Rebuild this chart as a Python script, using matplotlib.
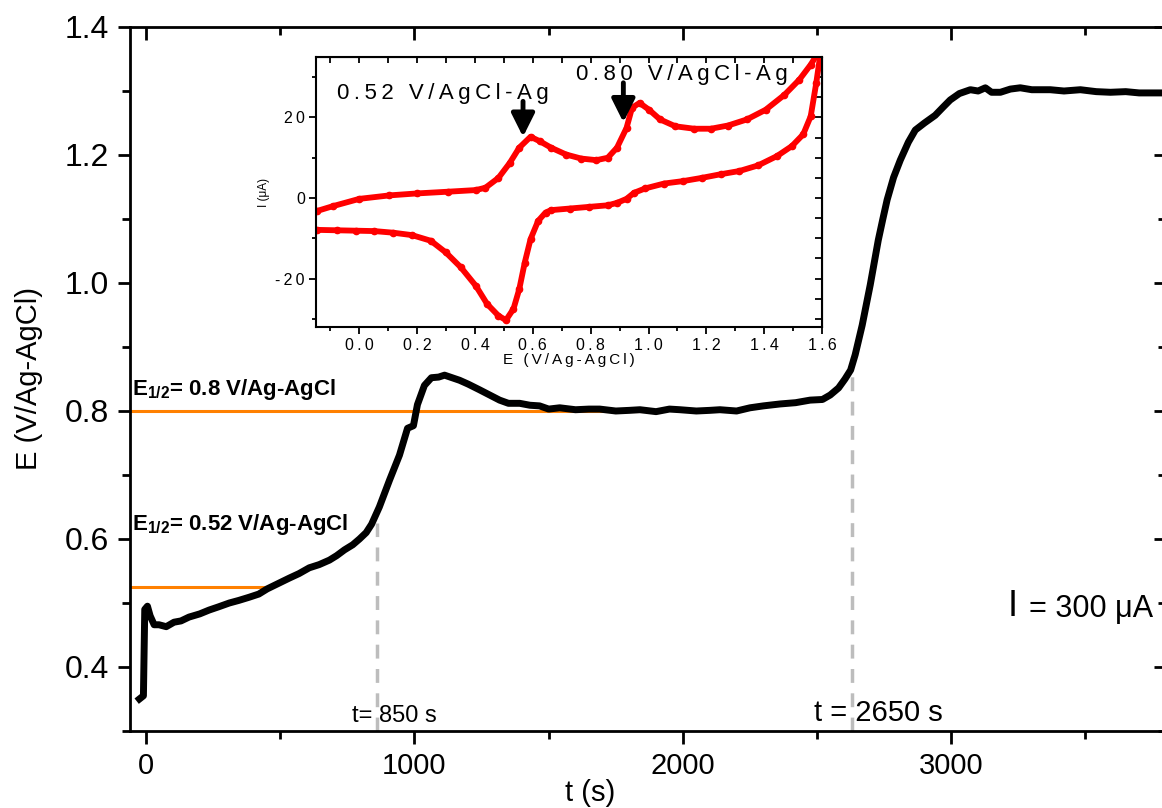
import matplotlib
matplotlib.use('Agg')
import matplotlib.pyplot as plt
from matplotlib import font_manager
from matplotlib.ticker import MultipleLocator, FuncFormatter


def pick_font(name, fallback='Liberation Sans'):
    try:
        font_manager.findfont(name, fallback_to_default=False)
        return name
    except ValueError:
        return fallback


SANS = 'Liberation Sans'
NARROW = pick_font('Liberation Sans Narrow')

plt.rcParams['font.family'] = [SANS, 'DejaVu Sans']
plt.rcParams['mathtext.fontset'] = 'custom'
plt.rcParams['mathtext.bf'] = 'Liberation Sans:bold'
plt.rcParams['mathtext.rm'] = 'Liberation Sans'

# chronopotentiogram, E vs t at I = 300 uA
t_s = [-25, -10, -5, 5, 15, 30, 48, 75, 104, 130, 160, 200, 235, 270, 310, 345, 384, 420,
       451, 490, 534, 570, 608, 645, 683, 710, 739, 770, 795, 820, 840, 869, 907, 944, 974,
       996, 1011, 1037, 1063, 1090, 1112, 1140, 1168, 1200, 1243, 1280, 1317, 1350, 1392,
       1430, 1466, 1500, 1541, 1600, 1650, 1690, 1750, 1800, 1840, 1900, 1950, 1989, 2050,
       2100, 2138, 2200, 2250, 2300, 2362, 2420, 2474, 2520, 2549, 2580, 2604, 2625, 2642,
       2668, 2698, 2728, 2745, 2761, 2785, 2810, 2840, 2866, 2900, 2940, 2970, 2996, 3030,
       3071, 3100, 3127, 3150, 3183, 3220, 3257, 3300, 3369, 3420, 3481, 3540, 3593, 3650,
       3700, 3780]
e_v = [0.350, 0.355, 0.490, 0.495, 0.480, 0.466, 0.466, 0.463, 0.470, 0.472, 0.478, 0.483,
       0.489, 0.494, 0.500, 0.504, 0.509, 0.514, 0.522, 0.530, 0.539, 0.546, 0.555, 0.560,
       0.567, 0.574, 0.583, 0.591, 0.600, 0.610, 0.623, 0.650, 0.692, 0.731, 0.773, 0.777,
       0.810, 0.840, 0.852, 0.853, 0.856, 0.852, 0.848, 0.842, 0.833, 0.825, 0.817, 0.812,
       0.812, 0.809, 0.808, 0.803, 0.805, 0.802, 0.803, 0.803, 0.800, 0.801, 0.802, 0.799,
       0.803, 0.802, 0.800, 0.801, 0.802, 0.800, 0.805, 0.808, 0.811, 0.813, 0.817, 0.818,
       0.825, 0.836, 0.850, 0.864, 0.888, 0.934, 0.997, 1.067, 1.100, 1.130, 1.165, 1.192,
       1.220, 1.239, 1.250, 1.262, 1.275, 1.286, 1.296, 1.302, 1.300, 1.305, 1.298, 1.298,
       1.303, 1.305, 1.302, 1.302, 1.300, 1.302, 1.299, 1.298, 1.299, 1.297, 1.297]

# half-wave potentials and transition times
half_wave = [0.8, 0.525]
half_wave_end = [1900, 455]
half_wave_labels = [r'$\mathbf{E_{1/2}}$= 0.8 V/Ag-AgCl', r'$\mathbf{E_{1/2}}$= 0.52 V/Ag-AgCl']
half_wave_label_y = [0.834, 0.623]
trans_t = [860, 2630]
trans_e = [0.625, 0.885]

# cyclic voltammogram (inset)
cv_e_fwd = [-0.146, -0.091, 0.0, 0.104, 0.2, 0.306, 0.403, 0.436, 0.481, 0.52, 0.553, 0.592,
            0.624, 0.663, 0.715, 0.767, 0.82, 0.859, 0.891, 0.924, 0.943, 0.969, 1.002, 1.04,
            1.093, 1.158, 1.216, 1.275, 1.34, 1.405, 1.47, 1.522, 1.561, 1.593]
cv_i_fwd = [-3.2, -2.0, -0.2, 0.66, 1.15, 1.57, 1.98, 2.56, 5.0, 8.7, 12.5, 15.2, 14.1, 12.5,
            10.8, 9.8, 9.4, 10.0, 12.5, 17.4, 22.4, 23.6, 21.9, 19.5, 17.8, 17.2, 17.2, 18.0,
            19.5, 21.9, 25.6, 29.4, 33.1, 36.8]
cv_e_rev = [1.593, 1.58, 1.561, 1.535, 1.496, 1.444, 1.379, 1.314, 1.249, 1.184, 1.119, 1.054,
            0.989, 0.95, 0.924, 0.891, 0.859, 0.793, 0.728, 0.663, 0.644, 0.618, 0.592, 0.572,
            0.553, 0.533, 0.507, 0.481, 0.442, 0.403, 0.351, 0.299, 0.247, 0.182, 0.117, 0.052,
            -0.013, -0.078, -0.146]
cv_i_rev = [35.0, 28.5, 20.3, 15.8, 12.9, 10.4, 8.1, 6.7, 5.9, 5.0, 4.2, 3.6, 2.4, 1.3, -0.2,
            -1.2, -1.8, -2.2, -2.6, -3.0, -3.6, -5.7, -10.2, -16.0, -22.6, -27.5, -30.3, -29.2,
            -26.3, -21.8, -17.2, -13.5, -10.6, -9.2, -8.6, -8.2, -8.1, -8.0, -7.9]
peak_labels = ['0.52 V/AgCl-Ag', '0.80 V/AgCl-Ag']
peak_label_pos = [(-0.078, 26.0), (0.750, 30.6)]
arrow_x = [0.566, 0.913]
arrow_from = [24.0, 28.6]
arrow_to = [15.2, 18.8]


def spaced(s):
    return '\u2009'.join(s)


fig = plt.figure(figsize=(11.62, 8.08), dpi=100)
ax = fig.add_axes([130 / 1162, 77 / 808, 1036 / 1162, 704 / 808])

ax.plot(t_s, e_v, color='black', lw=5, solid_joinstyle='round', zorder=3)
for y, x1 in zip(half_wave, half_wave_end):
    ax.hlines(y, -60, x1, color='#FF8000', lw=2.2, zorder=2)
for lab, y in zip(half_wave_labels, half_wave_label_y):
    ax.text(-52, y, lab, fontsize=16, fontweight='bold', va='center', ha='left')
for t, e in zip(trans_t, trans_e):
    ax.vlines(t, 0.3, e, color='#BDBDBD', lw=2.5, linestyles=(0, (4, 3)), zorder=1)

ax.text(925, 0.323, 't= 850 s', family=NARROW, fontsize=17, ha='center', va='center')
ax.text(2727, 0.328, 't = 2650 s', family=NARROW, fontsize=21, ha='center', va='center')
ax.text(3210, 0.494, 'I', fontsize=26, ha='left', va='center')
ax.text(3288, 0.491, '= 300 \u03bcA', fontsize=22, ha='left', va='center')

ax.set_xlim(-60, 3800)
ax.set_ylim(0.3, 1.4)
ax.xaxis.set_major_locator(MultipleLocator(1000))
ax.xaxis.set_minor_locator(MultipleLocator(500))
ax.yaxis.set_major_locator(MultipleLocator(0.2))
ax.yaxis.set_minor_locator(MultipleLocator(0.1))
ax.yaxis.set_major_formatter(FuncFormatter(lambda v, p: f'{v:.1f}'))
ax.tick_params(axis='both', which='major', direction='out', length=9, width=2)
ax.tick_params(axis='both', which='minor', direction='out', length=6, width=2)
ax.tick_params(axis='y', labelsize=23, pad=6)
ax.tick_params(axis='x', labelsize=21, pad=6)
for lab in ax.get_xticklabels():
    lab.set_family(NARROW)
for sp in ax.spines.values():
    sp.set_linewidth(2)

top = ax.secondary_xaxis('top')
top.xaxis.set_major_locator(MultipleLocator(1000))
top.xaxis.set_minor_locator(MultipleLocator(500))
top.tick_params(which='major', direction='in', length=9, width=2, labeltop=False)
top.tick_params(which='minor', direction='in', length=6, width=2)
right = ax.secondary_yaxis('right')
right.yaxis.set_major_locator(MultipleLocator(0.2))
right.yaxis.set_minor_locator(MultipleLocator(0.1))
right.tick_params(which='major', direction='in', length=9, width=2, labelright=False)
right.tick_params(which='minor', direction='in', length=6, width=2)

ax.set_xlabel('t (s)', family=NARROW, fontsize=21)
ax.xaxis.set_label_coords((590 - 130) / 1036, -(793 - 731) / 704)
ax.xaxis.label.set_va('center')
ax.set_ylabel('E (V/Ag-AgCl)', family=NARROW, fontsize=21, labelpad=16)

# inset CV
ax_in = fig.add_axes([316 / 1162, 481 / 808, 506 / 1162, 270 / 808])
ax_in.plot(cv_e_fwd, cv_i_fwd, color='#FF0000', lw=4.2, marker='o', ms=4.5)
ax_in.plot(cv_e_rev, cv_i_rev, color='#FF0000', lw=4.2, marker='o', ms=4.5)
for lab, (x, y) in zip(peak_labels, peak_label_pos):
    ax_in.text(x, y, spaced(lab), fontsize=16, ha='left', va='center')
for x, y0, y1 in zip(arrow_x, arrow_from, arrow_to):
    ax_in.annotate('', xy=(x, y1), xytext=(x, y0),
                   arrowprops=dict(arrowstyle='-|>,head_width=0.35,head_length=0.7',
                                   lw=3.5, color='black', mutation_scale=20,
                                   shrinkA=0, shrinkB=0))
ax_in.set_xlim(-0.15, 1.6)
ax_in.set_ylim(-32, 35)
ax_in.xaxis.set_major_locator(MultipleLocator(0.2))
ax_in.xaxis.set_minor_locator(MultipleLocator(0.1))
ax_in.yaxis.set_major_locator(MultipleLocator(20))
ax_in.yaxis.set_minor_locator(MultipleLocator(10))
ax_in.xaxis.set_major_formatter(FuncFormatter(lambda v, p: spaced(f'{v:.1f}')))
ax_in.yaxis.set_major_formatter(FuncFormatter(lambda v, p: spaced(f'{int(round(v))}')))
ax_in.tick_params(which='major', direction='out', length=5, width=1.3, labelsize=11.5, pad=3)
ax_in.tick_params(which='minor', direction='out', length=3, width=1.3)
for sp in ax_in.spines.values():
    sp.set_linewidth(1.5)
itop = ax_in.secondary_xaxis('top')
itop.xaxis.set_major_locator(MultipleLocator(0.1))
itop.tick_params(direction='in', length=4, width=1.3, labeltop=False)
iright = ax_in.secondary_yaxis('right')
iright.yaxis.set_major_locator(MultipleLocator(5))
iright.tick_params(direction='in', length=5, width=1.3, labelright=False)
ax_in.set_xlabel(spaced('E (V/Ag-AgCl)'), fontsize=11, labelpad=0)
ax_in.set_ylabel('I (\u03bcA)', fontsize=8.5, labelpad=4)

fig.savefig('out.png', dpi=100)
